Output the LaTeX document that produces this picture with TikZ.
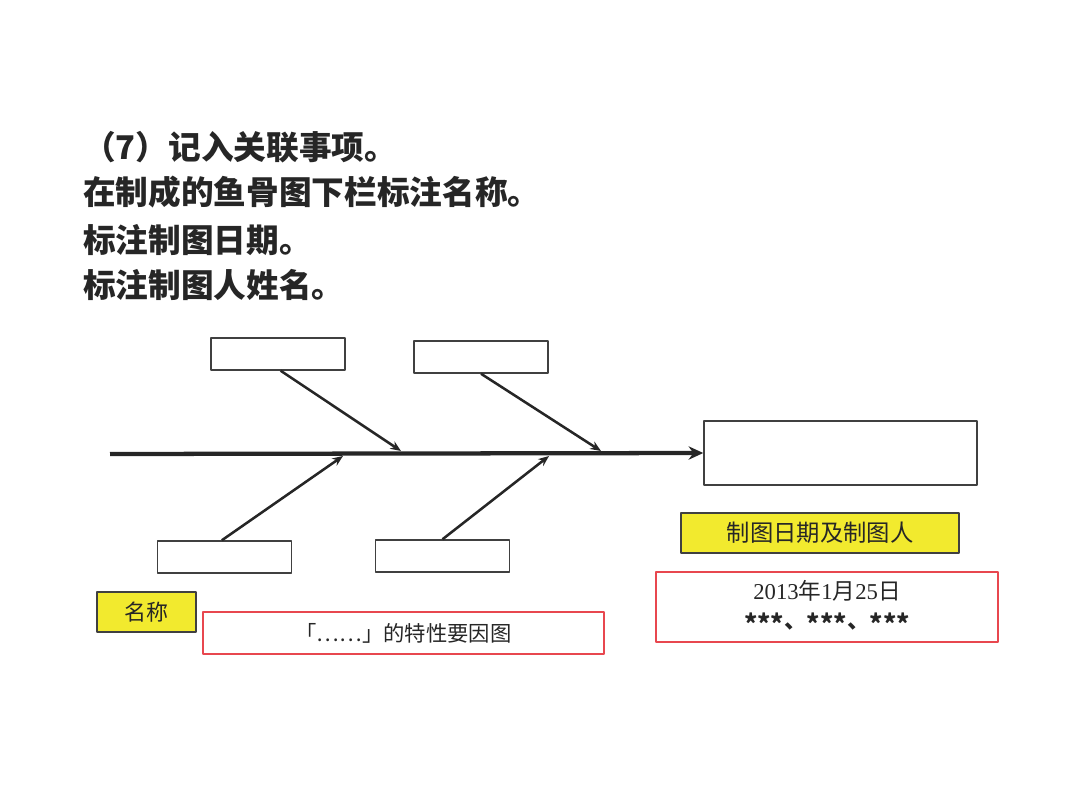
\documentclass[tikz,border=0pt]{standalone}
\usepackage{fontspec}
\usetikzlibrary{arrows.meta}
\setmainfont{Liberation Serif}
\newfontfamily\cjk{Noto Sans CJK SC}
\definecolor{boxyellow}{HTML}{F2EA2E}
\definecolor{boxred}{HTML}{E8474F}
\definecolor{boxgray}{HTML}{404040}
\newcommand{\stars}{\raisebox{-0.4ex}{\fontsize{19}{20}\selectfont ***}}
\tikzset{
  bonebox/.style={draw=boxgray,line width=1.1pt,inner sep=0pt,minimum width=100.5pt,minimum height=24pt},
  tagbox/.style={draw=boxgray,fill=boxyellow,line width=0.8pt,inner sep=0pt,text=black!85},
  notebox/.style={draw=boxred,line width=1pt,inner sep=0pt,text=black!85},
  bone/.style={-{Stealth[length=8pt,width=6.5pt]},line width=1.9pt,draw=black!85},
}
\begin{document}
\begin{tikzpicture}[>=stealth,line join=round,x=0.75pt,y=-0.75pt]
                \useasboundingbox (0,0) rectangle (1080,796);
                % title lines
                \node (t1) at (83,147) [anchor=west,inner sep=0pt,font=\cjk\bfseries\fontsize{24.5}{28}\selectfont,text=black!85] {（7）记入关联事项。};
                \node (t2) at (83,192) [anchor=west,inner sep=0pt,font=\cjk\bfseries\fontsize{24.5}{28}\selectfont,text=black!85] {在制成的鱼骨图下栏标注名称。};
                \node (t3) at (83,240) [anchor=west,inner sep=0pt,font=\cjk\bfseries\fontsize{24.5}{28}\selectfont,text=black!85] {标注制图日期。};
                \node (t4) at (83,285) [anchor=west,inner sep=0pt,font=\cjk\bfseries\fontsize{24.5}{28}\selectfont,text=black!85] {标注制图人姓名。};
                % cause boxes
                \node[bonebox] (top1) at (278,354) {};
                \node[bonebox] (top2) at (481,357) {};
                \node[bonebox] (bot1) at (224.5,557) {};
                \node[bonebox] (bot2) at (442.5,556) {};
                \node[bonebox,minimum width=204.75pt,minimum height=48pt] (head) at (840.5,453) {};
                % spine
                \coordinate (tail) at (110,454);
                \coordinate (e1) at (401,451);
                \coordinate (e2) at (601,451);
                \coordinate (e3) at (343,456);
                \coordinate (e4) at (549,456);
                \draw[-{Stealth[length=11pt,width=10pt]},line width=3.2pt,draw=black!85] (tail)--(head.west);
                \draw[bone] ([xshift=2pt]top1.south)--(e1);
                \draw[bone] (top2.south)--(e2);
                \draw[bone] ([xshift=-2pt]bot1.north)--(e3);
                \draw[bone] (bot2.north)--(e4);
                % labels
                \node[tagbox,minimum width=208.5pt,minimum height=30pt,font=\cjk\fontsize{17.5}{20}\selectfont] (who) at (820,533) {制图日期及制图人};
                \node[notebox,minimum width=256.5pt,minimum height=52.5pt,align=center,font=\fontsize{17}{21.75}\selectfont] (date) at (827,607) {2013{\cjk 年}1{\cjk 月}25{\cjk 日}\\{\cjk\bfseries \stars、\stars、\stars}};
                \node[tagbox,minimum width=74.25pt,minimum height=30pt,font=\cjk\fontsize{16.5}{20}\selectfont] (name) at (146.5,612) {名称};
                \node[notebox,minimum width=300.75pt,minimum height=31.5pt,font=\cjk\fontsize{16}{20}\selectfont] (title) at (403.5,633) {「……」的特性要因图};
            \end{tikzpicture}
\end{document}
